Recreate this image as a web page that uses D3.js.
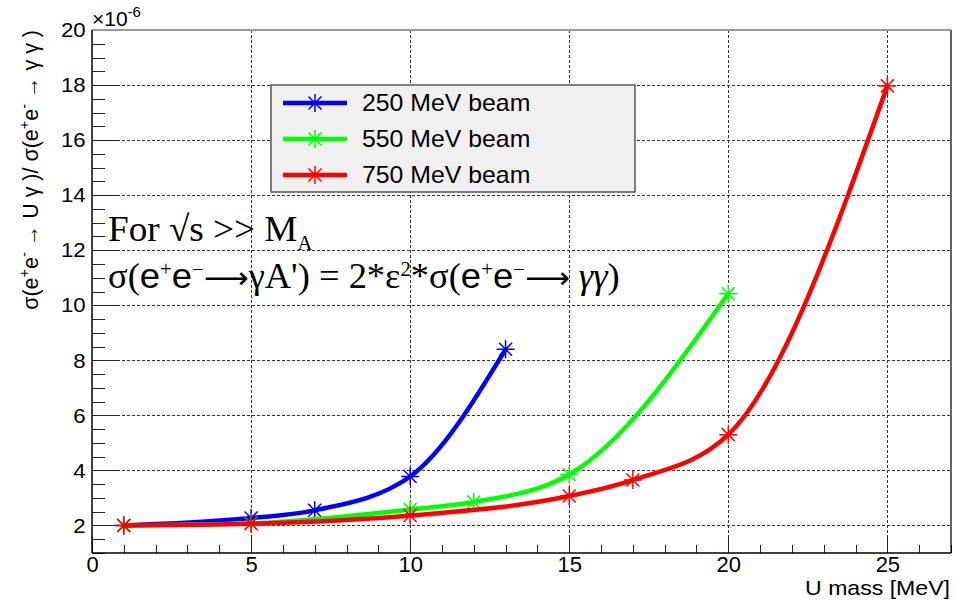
<!DOCTYPE html>
<html>
<head>
<meta charset="utf-8">
<script src="https://cdn.jsdelivr.net/npm/d3@7"></script>
<style>
  body { margin: 0; background: #fff; }
  svg { display: block; }
  text { font-family: "Liberation Sans", Arial, sans-serif; fill: #000; }
  .tick line { stroke: #222; shape-rendering: crispEdges; }
  .grid line { stroke: #333; stroke-width: 1; stroke-dasharray: 3,2; shape-rendering: crispEdges; }
</style>
</head>
<body>
<div id="chart"></div>
<script>
// beams and their points (U mass in MeV, ratio in units of 1e-6)
var beamNames = ["250 MeV beam", "550 MeV beam", "750 MeV beam"];
var beamColors = ["#0000ff", "#00ff00", "#ff0000"];

var mass250 = [1, 5, 7, 10, 13];
var ratio250 = [2.0, 2.27, 2.55, 3.78, 8.4];

var mass550 = [1, 5, 10, 12, 15, 20];
var ratio550 = [2.0, 2.08, 2.58, 2.85, 3.85, 10.42];

var mass750 = [1, 5, 10, 15, 17, 20, 25];
var ratio750 = [2.0, 2.06, 2.36, 3.07, 3.65, 5.3, 17.97];

var xMajorTicks = [0, 5, 10, 15, 20, 25];
var yMajorTicks = [2, 4, 6, 8, 10, 12, 14, 16, 18, 20];

var _width = 957, _height = 600;
var margin = {top: 30, right: 6, bottom: 47, left: 92};

var series = [
  {name: beamNames[0], color: beamColors[0], xs: mass250, ys: ratio250},
  {name: beamNames[1], color: beamColors[1], xs: mass550, ys: ratio550},
  {name: beamNames[2], color: beamColors[2], xs: mass750, ys: ratio750}
];

var svg = d3.select("#chart").append("svg")
    .attr("width", _width)
    .attr("height", _height);

var x = d3.scaleLinear().domain([0, 27]).range([margin.left, _width - margin.right]);
var y = d3.scaleLinear().domain([1, 20]).range([_height - margin.bottom, margin.top]);

var x0 = x.range()[0], x1 = x.range()[1];
var y0 = y.range()[0], y1 = y.range()[1];

// stretch a text horizontally so it spans a given width from its anchor
function fitWidth(sel, ax, ay, target) {
  var w = sel.node().getBBox().width;
  var k = target / w;
  sel.attr("transform", "translate(" + ax + "," + ay + ") scale(" + k + ",1) translate(" + (-ax) + "," + (-ay) + ")");
}

// grid
var grid = svg.append("g").attr("class", "grid");
grid.selectAll("line.h")
    .data(yMajorTicks.filter(function (d) { return d < 20; }))
  .enter().append("line")
    .attr("class", "h")
    .attr("x1", x0).attr("x2", x1)
    .attr("y1", function (d) { return y(d); })
    .attr("y2", function (d) { return y(d); });
grid.selectAll("line.v")
    .data(xMajorTicks.filter(function (d) { return d > 0; }))
  .enter().append("line")
    .attr("class", "v")
    .attr("y1", y0).attr("y2", y1)
    .attr("x1", function (d) { return x(d); })
    .attr("x2", function (d) { return x(d); });

// axes (ROOT style: ticks pointing inward)
var xMinor = d3.range(0, 28, 1).filter(function (d) { return d % 5 !== 0; });
var yMinor = d3.range(1, 20.01, 0.5).filter(function (d) { return d % 2 !== 0; });

svg.append("g")
    .attr("transform", "translate(0," + y0 + ")")
    .call(d3.axisBottom(x).tickValues(xMinor).tickSize(-8).tickFormat(""))
    .call(function (g) { g.select(".domain").remove(); });

svg.append("g")
    .attr("transform", "translate(0," + y0 + ")")
    .call(d3.axisBottom(x).tickValues(xMajorTicks).tickSize(-16).tickPadding(3).tickFormat(d3.format("d")))
    .call(function (g) {
      g.select(".domain").remove();
      g.selectAll("text").style("font-size", "22px");
    });

svg.append("g")
    .attr("transform", "translate(" + x0 + ",0)")
    .call(d3.axisLeft(y).tickValues(yMinor).tickSize(-13).tickFormat(""))
    .call(function (g) { g.select(".domain").remove(); });

svg.append("g")
    .attr("transform", "translate(" + x0 + ",0)")
    .call(d3.axisLeft(y).tickValues(yMajorTicks).tickSize(-26).tickPadding(6).tickFormat(d3.format("d")))
    .call(function (g) {
      g.select(".domain").remove();
      g.selectAll("text").style("font-size", "21px")
          .attr("transform", "scale(1.06,1)");
    });

// frame
svg.append("line").attr("x1", x0).attr("x2", x1).attr("y1", y1).attr("y2", y1)
    .attr("stroke", "#9a9a9a").attr("stroke-width", 2);
svg.append("line").attr("x1", x0).attr("x2", x1).attr("y1", y0).attr("y2", y0)
    .attr("stroke", "#000").attr("stroke-width", 1.5);
svg.append("line").attr("x1", x0).attr("x2", x0).attr("y1", y1).attr("y2", y0)
    .attr("stroke", "#000").attr("stroke-width", 1.5);
svg.append("line").attr("x1", x1).attr("x2", x1).attr("y1", y1).attr("y2", y0)
    .attr("stroke", "#000").attr("stroke-width", 1.2);

// exponent
var expo = svg.append("text").attr("x", 92).attr("y", 26).style("font-size", "21px");
expo.append("tspan").text("\u00d710");
expo.append("tspan").attr("dy", -9).style("font-size", "15px").text("-6");

// axis titles
var xt = svg.append("text")
    .attr("x", 950).attr("y", 595)
    .attr("text-anchor", "end")
    .style("font-size", "20px")
    .text("U mass [MeV]");
fitWidth(xt, 950, 595, 145);

var yt = svg.append("text")
    .attr("x", 0).attr("y", 0)
    .attr("text-anchor", "end")
    .style("font-size", "22px");
function sup(t, s) {
  t.append("tspan").attr("dy", -9).style("font-size", "15px").text(s);
}
function base(t, s) {
  t.append("tspan").attr("dy", 9).text(s);
}
yt.append("tspan").text("\u03c3(e");
sup(yt, "+");
base(yt, "e");
sup(yt, "-");
base(yt, " \u2192 U \u03b3 )/ \u03c3(e");
sup(yt, "+");
base(yt, "e");
sup(yt, "-");
base(yt, " \u2192 \u03b3 \u03b3 )");
var ytw = yt.node().getBBox().width;
yt.attr("transform", "translate(38,30) rotate(-90) scale(" + (280 / ytw) + ",1)");

// curves
var line = d3.line()
    .x(function (d) { return x(d[0]); })
    .y(function (d) { return y(d[1]); })
    .curve(d3.curveMonotoneX);

var star = "M-9,0H9M0,-9V9M-6.5,-6.5L6.5,6.5M-6.5,6.5L6.5,-6.5";

series.forEach(function (s) {
  var pts = d3.zip(s.xs, s.ys);
  svg.append("path")
      .datum(pts)
      .attr("fill", "none")
      .attr("stroke", s.color)
      .attr("stroke-width", 4.5)
      .attr("stroke-linejoin", "round")
      .attr("d", line);
  svg.selectAll(null)
      .data(pts)
    .enter().append("path")
      .attr("transform", function (d) { return "translate(" + x(d[0]) + "," + y(d[1]) + ")"; })
      .attr("d", star)
      .attr("fill", "none")
      .attr("stroke", s.color)
      .attr("stroke-width", 1.5);
});

// legend
var legend = svg.append("g");
legend.append("rect")
    .attr("x", 271).attr("y", 85).attr("width", 364).attr("height", 107)
    .attr("fill", "#f0f0f0")
    .attr("stroke", "#555").attr("stroke-width", 1.5);
series.forEach(function (s, i) {
  var ly = 103 + i * 36;
  legend.append("line")
      .attr("x1", 283).attr("x2", 347).attr("y1", ly).attr("y2", ly)
      .attr("stroke", s.color).attr("stroke-width", 4.5);
  legend.append("path")
      .attr("transform", "translate(315," + ly + ")")
      .attr("d", star)
      .attr("fill", "none")
      .attr("stroke", s.color)
      .attr("stroke-width", 1.5);
  legend.append("text")
      .attr("transform", "translate(362," + (ly + 8) + ") scale(1.08,1)")
      .style("font-size", "23px")
      .text(s.name);
});

// formula annotation
var serif = "'Liberation Serif', 'Times New Roman', serif";
var sans = "'Liberation Sans', Arial, sans-serif";
var longArrow = "\u27f6";
var f1 = svg.append("text")
    .attr("x", 108).attr("y", 241)
    .style("font-family", serif)
    .style("font-size", "36px");
f1.append("tspan").text("For \u221as >> M");
f1.append("tspan").attr("dy", 9).style("font-size", "20px").text("A");
fitWidth(f1, 108, 241, 205);

var f2 = svg.append("text")
    .attr("x", 108).attr("y", 288)
    .style("font-family", serif)
    .style("font-size", "35px");
function fsup(t, s) {
  t.append("tspan").attr("dy", -12).style("font-size", "20px").text(s);
}
function fpart(t, s, dy, fam) {
  var ts = t.append("tspan").attr("dy", dy).text(s);
  if (fam) ts.style("font-family", fam);
  return ts;
}
function fee(t, dy) {
  fpart(t, "e", dy, sans);
  fsup(t, "+");
  fpart(t, "e", 12, sans);
  fsup(t, "\u2212");
  fpart(t, longArrow, 12, "'DejaVu Sans', sans-serif").style("font-size", "30px");
}
f2.append("tspan").text("\u03c3(");
fee(f2, 0);
fpart(f2, "\u03b3A') = 2*\u03b5", 0);
fsup(f2, "2");
fpart(f2, "*\u03c3(", 12);
fee(f2, 0);
f2.append("tspan").text(" ");
f2.append("tspan").style("font-style", "italic").text("\u03b3\u03b3");
f2.append("tspan").text(")");
fitWidth(f2, 108, 288, 512);
</script>
</body>
</html>
